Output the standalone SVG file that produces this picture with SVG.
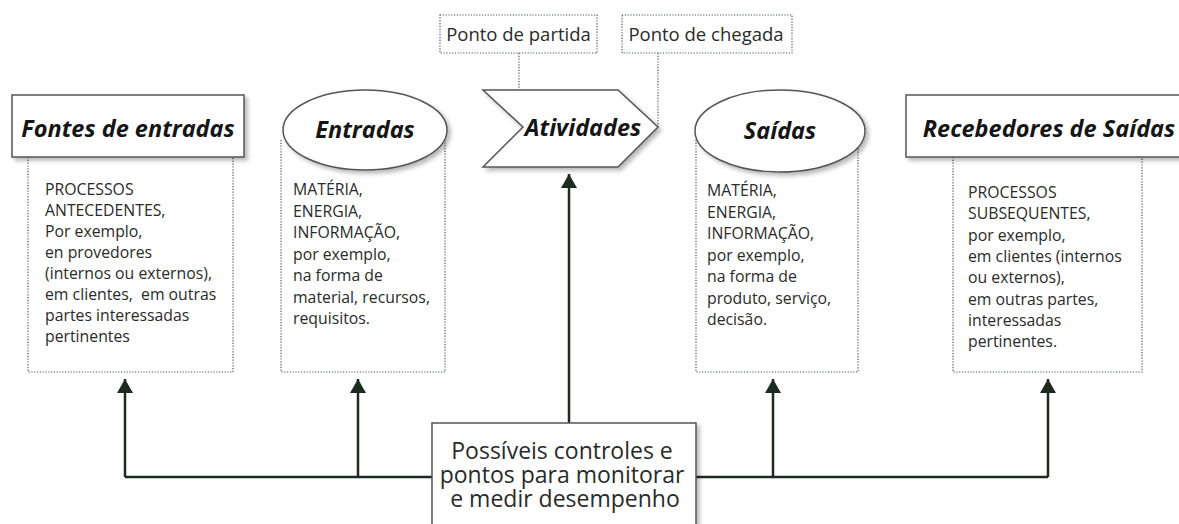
<svg xmlns="http://www.w3.org/2000/svg" width="1179" height="524" viewBox="0 0 1179 524">
<defs>
<filter id="sh" x="-10%" y="-10%" width="130%" height="140%">
<feDropShadow dx="3" dy="3" stdDeviation="2" flood-color="#000" flood-opacity="0.28"/>
</filter>
<marker id="ah" markerUnits="userSpaceOnUse" markerWidth="20" markerHeight="16" refX="14" refY="8" orient="auto">
<path d="M0,0 L14,8 L0,16 Z" fill="#1c2b20"/>
</marker>
<style>
.title{font-family:"Open Sans","Liberation Sans",sans-serif;font-weight:bold;font-style:italic;font-size:23.5px;fill:#151515}
.body{font-family:"Open Sans","Liberation Sans",sans-serif;font-size:15.8px;fill:#2a2a2a}
.lbl{font-family:"Open Sans","Liberation Sans",sans-serif;font-size:18.5px;fill:#2a2a2a}
.big{font-family:"Open Sans","Liberation Sans",sans-serif;font-size:23px;fill:#2a2a2a}
.solid{fill:#fff;stroke:#555;stroke-width:1.5}
.dot{fill:none;stroke:#4a574c;stroke-width:1.2;stroke-dasharray:1.2 1.6}
.conn{fill:none;stroke:#1c2b20;stroke-width:2.5}
</style>
</defs>
<rect width="1179" height="524" fill="#fff"/>

<g id="connectors">
<path class="conn" d="M125,477 H1048"/>
<path class="conn" d="M125,477 V379" marker-end="url(#ah)"/>
<path class="conn" d="M358,477 V379" marker-end="url(#ah)"/>
<path class="conn" d="M773,477 V379" marker-end="url(#ah)"/>
<path class="conn" d="M1048,477 V379" marker-end="url(#ah)"/>
<path class="conn" d="M569,423 V174" marker-end="url(#ah)"/>
<path class="dot" d="M519,53 V90"/>
<path class="dot" d="M658,53 V127"/>
</g>

<g id="fontes">
<path class="dot" d="M28,157 V372 H233 V157"/>
<rect class="solid" x="12" y="95" width="232" height="62" filter="url(#sh)"/>
<text class="title" x="128" y="137" text-anchor="middle">Fontes de entradas</text>
<text class="body">
<tspan x="45" y="195">PROCESSOS</tspan>
<tspan x="45" y="216">ANTECEDENTES,</tspan>
<tspan x="45" y="237">Por exemplo,</tspan>
<tspan x="45" y="258">en provedores</tspan>
<tspan x="45" y="279">(internos ou externos),</tspan>
<tspan x="45" y="300">em clientes,&#160; em outras</tspan>
<tspan x="45" y="321">partes interessadas</tspan>
<tspan x="45" y="342">pertinentes</tspan>
</text>
</g>

<g id="entradas">
<path class="dot" d="M281,140 V372 H445 V140"/>
<ellipse class="solid" cx="365" cy="130" rx="82" ry="40" filter="url(#sh)"/>
<text class="title" x="365" y="138" text-anchor="middle">Entradas</text>
<text class="body">
<tspan x="293" y="195">MATÉRIA,</tspan>
<tspan x="293" y="216.5">ENERGIA,</tspan>
<tspan x="293" y="238">INFORMAÇÃO,</tspan>
<tspan x="293" y="259.5">por exemplo,</tspan>
<tspan x="293" y="281">na forma de</tspan>
<tspan x="293" y="302.5">material, recursos,</tspan>
<tspan x="293" y="324">requisitos.</tspan>
</text>
</g>

<g id="partida">
<rect class="dot" x="440" y="15" width="157" height="38"/>
<text class="lbl" x="518.5" y="41" text-anchor="middle">Ponto de partida</text>
</g>

<g id="chegada">
<rect class="dot" x="622" y="15" width="170" height="38"/>
<text class="lbl" x="706" y="41" text-anchor="middle">Ponto de chegada</text>
</g>

<g id="atividades">
<polygon class="solid" points="483,90 618,90 658,127 618,167 483,167 523,127" filter="url(#sh)"/>
<text class="title" x="583" y="136" text-anchor="middle">Atividades</text>
</g>

<g id="saidas">
<path class="dot" d="M696,140 V372 H858 V140"/>
<ellipse class="solid" cx="780" cy="131" rx="85" ry="41" filter="url(#sh)"/>
<text class="title" x="780" y="139" text-anchor="middle">Saídas</text>
<text class="body">
<tspan x="707" y="196">MATÉRIA,</tspan>
<tspan x="707" y="217.5">ENERGIA,</tspan>
<tspan x="707" y="239">INFORMAÇÃO,</tspan>
<tspan x="707" y="260.5">por exemplo,</tspan>
<tspan x="707" y="282">na forma de</tspan>
<tspan x="707" y="303.5">produto, serviço,</tspan>
<tspan x="707" y="325">decisão.</tspan>
</text>
</g>

<g id="recebedores">
<path class="dot" d="M953,157 V372 H1142 V157"/>
<rect class="solid" x="906" y="95" width="285" height="62" filter="url(#sh)"/>
<text class="title" x="1049" y="137" text-anchor="middle">Recebedores de Saídas</text>
<text class="body">
<tspan x="968" y="198">PROCESSOS</tspan>
<tspan x="968" y="219.3">SUBSEQUENTES,</tspan>
<tspan x="968" y="240.6">por exemplo,</tspan>
<tspan x="968" y="261.9">em clientes (internos</tspan>
<tspan x="968" y="283.2">ou externos),</tspan>
<tspan x="968" y="304.5">em outras partes,</tspan>
<tspan x="968" y="325.8">interessadas</tspan>
<tspan x="968" y="347">pertinentes.</tspan>
</text>
</g>

<g id="controles">
<rect class="solid" x="432" y="423" width="264" height="112" filter="url(#sh)"/>
<text class="big" text-anchor="middle">
<tspan x="565" y="459">Possíveis controles e</tspan>
<tspan x="565" y="483">pontos para monitorar</tspan>
<tspan x="565" y="507">e medir desempenho</tspan>
</text>
</g>
</svg>
